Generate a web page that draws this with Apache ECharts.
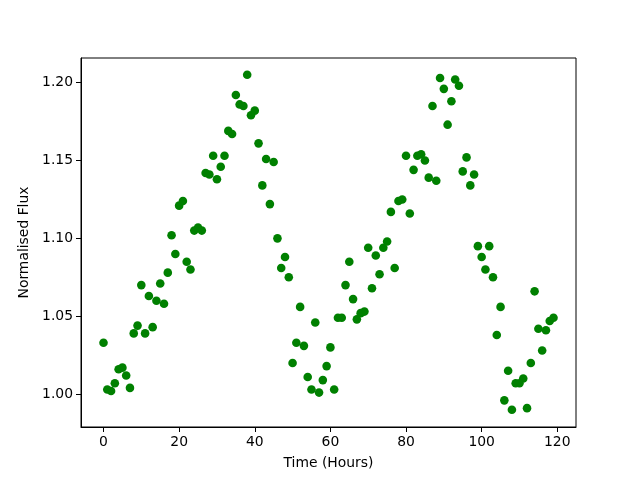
<!DOCTYPE html>
<html>
<head>
<meta charset="utf-8">
<script src="https://cdn.jsdelivr.net/npm/echarts@6/dist/echarts.min.js"></script>
<style>
  html, body { margin: 0; padding: 0; background: #fff; }
  #chart { width: 640px; height: 480px; }
</style>
</head>
<body>
<div id="chart"></div>
<script>
// hours 0..119, one reading per hour
const hours = Array.from({length: 120}, (_, i) => i);
const flux = [
  1.033, 1.003, 1.002, 1.007, 1.016, 1.017, 1.012, 1.004, 1.039, 1.044,
  1.070, 1.039, 1.063, 1.043, 1.060, 1.071, 1.058, 1.078, 1.102, 1.090,
  1.121, 1.124, 1.085, 1.080, 1.105, 1.107, 1.105, 1.142, 1.141, 1.153,
  1.138, 1.146, 1.153, 1.169, 1.167, 1.192, 1.186, 1.185, 1.205, 1.179,
  1.182, 1.161, 1.134, 1.151, 1.122, 1.149, 1.100, 1.081, 1.088, 1.075,
  1.020, 1.033, 1.056, 1.031, 1.011, 1.003, 1.046, 1.001, 1.009, 1.018,
  1.030, 1.003, 1.049, 1.049, 1.070, 1.085, 1.061, 1.048, 1.052, 1.053,
  1.094, 1.068, 1.089, 1.077, 1.094, 1.098, 1.117, 1.081, 1.124, 1.125,
  1.153, 1.116, 1.144, 1.153, 1.154, 1.150, 1.139, 1.185, 1.137, 1.203,
  1.196, 1.173, 1.188, 1.202, 1.198, 1.143, 1.152, 1.134, 1.141, 1.095,
  1.088, 1.080, 1.095, 1.075, 1.038, 1.056, 0.996, 1.015, 0.990, 1.007,
  1.007, 1.010, 0.991, 1.020, 1.066, 1.042, 1.028, 1.041, 1.047, 1.049
];
const xTicks = [0, 20, 40, 60, 80, 100, 120];
const yTicks = [1.00, 1.05, 1.10, 1.15, 1.20];

const chart = echarts.init(document.getElementById('chart'));
const font = 'DejaVu Sans';

chart.setOption({
    animation: false,
    grid: {
        left: 81, right: 64, top: 58, bottom: 53,
        show: true, borderColor: '#000', borderWidth: 1
    },
    xAxis: {
        type: 'value',
        min: -5.95, max: 124.95,
        name: 'Time (Hours)',
        nameLocation: 'middle',
        nameGap: 29,
        nameTextStyle: { color: '#000', fontSize: 13.9, fontFamily: font },
        splitLine: { show: false },
        axisLine: { show: true, onZero: false, lineStyle: { color: '#000', width: 1 } },
        axisTick: { show: true, inside: false, length: 5, lineStyle: { color: '#000' }, customValues: xTicks },
        axisLabel: { color: '#000', fontSize: 13.9, fontFamily: font, margin: 8, customValues: xTicks,
            formatter: v => String(Math.round(v)) }
    },
    yAxis: {
        type: 'value',
        min: 0.9789, max: 1.2158,
        name: 'Normalised Flux',
        nameLocation: 'middle',
        nameGap: 48,
        nameTextStyle: { color: '#000', fontSize: 13.9, fontFamily: font },
        splitLine: { show: false },
        axisLine: { show: true, onZero: false, lineStyle: { color: '#000', width: 1 } },
        axisTick: { show: true, inside: false, length: 5, lineStyle: { color: '#000' }, customValues: yTicks },
        axisLabel: { color: '#000', fontSize: 13.9, fontFamily: font, margin: 8, customValues: yTicks,
            formatter: v => v.toFixed(2) }
    },
    series: [{
        type: 'scatter',
        symbol: 'circle',
        symbolSize: 8.6,
        itemStyle: { color: '#008000', opacity: 1 },
        data: hours.map((h, i) => [h, flux[i]])
    }]
});
</script>
</body>
</html>
